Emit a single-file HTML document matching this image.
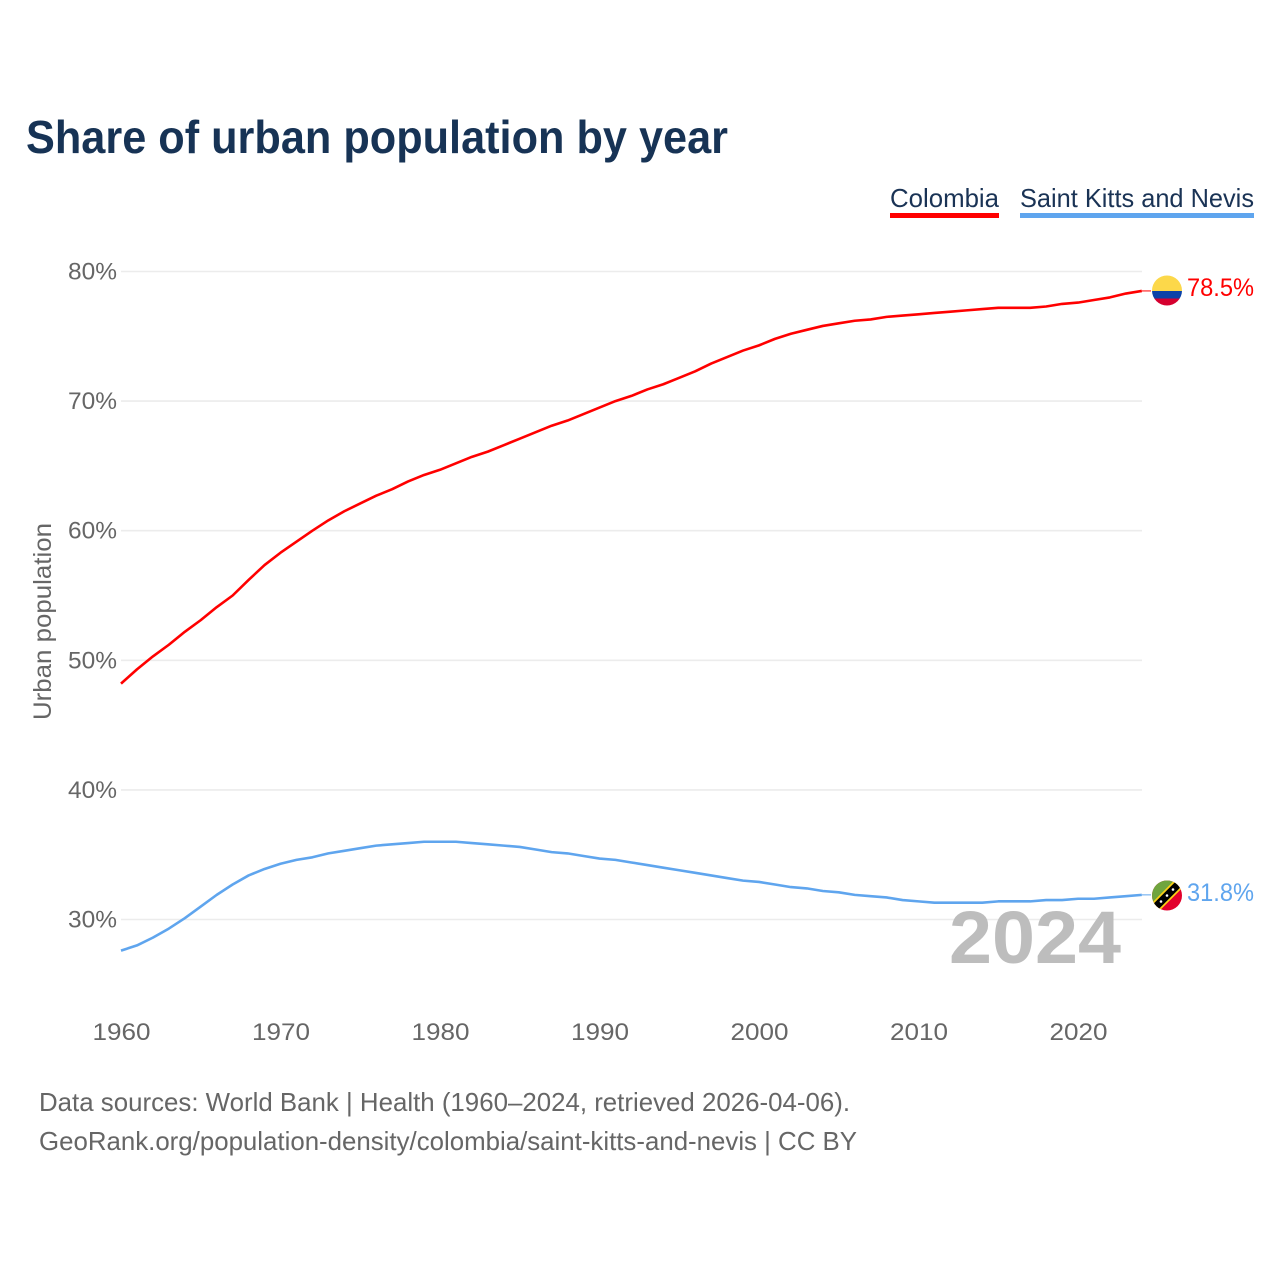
<!DOCTYPE html>
<html lang="en">
<head>
<meta charset="utf-8">
<title>Share of urban population by year</title>
<style>
html,body{margin:0;padding:0;background:#fff;width:1280px;height:1280px;overflow:hidden}
svg{display:block}
text{font-family:"Liberation Sans",sans-serif}
</style>
</head>
<body>
<svg id="chart" xmlns="http://www.w3.org/2000/svg" width="1280" height="1280" viewBox="0 0 1280 1280">
  <rect width="1280" height="1280" fill="#fff"/>
  <text x="26" y="153" font-size="46" font-weight="700" fill="#173355" textLength="702" lengthAdjust="spacingAndGlyphs">Share of urban population by year</text>

  <g>
    <text x="890" y="207" font-size="26" fill="#1a3355" textLength="109" lengthAdjust="spacingAndGlyphs">Colombia</text>
    <rect x="890" y="213" width="109" height="5" fill="#ff0000"/>
  </g>
  <g>
    <text x="1020" y="207" font-size="26" fill="#1a3355" textLength="234" lengthAdjust="spacingAndGlyphs">Saint Kitts and Nevis</text>
    <rect x="1020" y="213" width="234" height="5" fill="#5fa5ee"/>
  </g>

  <g id="grid"></g>
  <g id="yticks"></g>
  <g id="xticks"></g>
  <text transform="translate(51,720) rotate(-90)" x="0" y="0" font-size="25" fill="#666" textLength="197" lengthAdjust="spacingAndGlyphs">Urban population</text>

  <text x="949" y="963" font-size="74" font-weight="700" fill="#bdbdbd" textLength="172" lengthAdjust="spacingAndGlyphs">2024</text>

  <path id="line-colombia" fill="none" stroke="#ff0000" stroke-width="2.6" stroke-linejoin="round"/>
  <path id="line-skn" fill="none" stroke="#5fa5ee" stroke-width="2.6" stroke-linejoin="round"/>
  <line id="lead-colombia" stroke="#ff0000" stroke-width="1"/>
  <line id="lead-skn" stroke="#5fa5ee" stroke-width="1"/>

  <defs>
    <clipPath id="clip-co"><circle cx="1167" cy="290.5" r="15"/></clipPath>
    <clipPath id="clip-kn"><circle cx="1167" cy="895.5" r="15"/></clipPath>
  </defs>
  <g clip-path="url(#clip-co)">
    <rect x="1152" y="275" width="30" height="16" fill="#fcd84a"/>
    <rect x="1152" y="291" width="30" height="7.5" fill="#0b42a8"/>
    <rect x="1152" y="298.5" width="30" height="7.5" fill="#d5002f"/>
  </g>
  <g clip-path="url(#clip-kn)">
    <rect x="1152" y="880" width="31" height="31" fill="#e2002c"/>
    <polygon points="1152,880 1182,880 1152,910.5" fill="#6fa53e"/>
    <line x1="1150" y1="912.5" x2="1184" y2="878.5" stroke="#fcd116" stroke-width="11"/>
    <line x1="1150" y1="912.5" x2="1184" y2="878.5" stroke="#000" stroke-width="7.5"/>
    <circle cx="1161" cy="901.5" r="1.3" fill="#fff"/>
    <circle cx="1167" cy="895.5" r="1.3" fill="#fff"/>
    <circle cx="1173" cy="889.5" r="1.3" fill="#fff"/>
  </g>
  <text x="1187" y="296" font-size="25" fill="#ff0000" textLength="67" lengthAdjust="spacingAndGlyphs">78.5%</text>
  <text x="1187" y="901" font-size="25" fill="#5fa5ee" textLength="67" lengthAdjust="spacingAndGlyphs">31.8%</text>

  <text x="39" y="1111" font-size="26" fill="#666" textLength="811" lengthAdjust="spacingAndGlyphs">Data sources: World Bank | Health (1960–2024, retrieved 2026-04-06).</text>
  <text x="39" y="1150" font-size="26" fill="#666" textLength="818" lengthAdjust="spacingAndGlyphs">GeoRank.org/population-density/colombia/saint-kitts-and-nevis | CC BY</text>
</svg>
<script>
const startYear = 1960;
const colombia = [48.2,49.3,50.3,51.2,52.2,53.1,54.1,55.0,56.2,57.35,58.3,59.15,60.0,60.8,61.5,62.1,62.7,63.2,63.8,64.3,64.7,65.2,65.7,66.1,66.6,67.1,67.6,68.1,68.5,69.0,69.5,70.0,70.4,70.9,71.3,71.8,72.3,72.9,73.4,73.9,74.3,74.8,75.2,75.5,75.8,76.0,76.2,76.3,76.5,76.6,76.7,76.8,76.9,77.0,77.1,77.2,77.2,77.2,77.3,77.5,77.6,77.8,78.0,78.3,78.5];
const saintKittsAndNevis = [27.6,28.0,28.6,29.3,30.1,31.0,31.9,32.7,33.4,33.9,34.3,34.6,34.8,35.1,35.3,35.5,35.7,35.8,35.9,36.0,36.0,36.0,35.9,35.8,35.7,35.6,35.4,35.2,35.1,34.9,34.7,34.6,34.4,34.2,34.0,33.8,33.6,33.4,33.2,33.0,32.9,32.7,32.5,32.4,32.2,32.1,31.9,31.8,31.7,31.5,31.4,31.3,31.3,31.3,31.3,31.4,31.4,31.4,31.5,31.5,31.6,31.6,31.7,31.8,31.9];
const yTicks = [30,40,50,60,70,80];
const xTicks = [1960,1970,1980,1990,2000,2010,2020];

const NS = 'http://www.w3.org/2000/svg';
function xScale(year){ return 121 + (year - 1960) * 15.95; }
function yScale(v){ return 919.5 - (v - 30) * 12.96; }
function linePath(values){
  return values.map(function(v,i){
    return (i ? 'L' : 'M') + xScale(startYear + i).toFixed(2) + ' ' + yScale(v).toFixed(2);
  }).join('');
}
const gridG = document.getElementById('grid');
const yG = document.getElementById('yticks');
const xG = document.getElementById('xticks');
yTicks.forEach(function(t){
  const ln = document.createElementNS(NS,'line');
  
  
  ln.setAttribute('x1', 121);
  ln.setAttribute('x2', 1142);
  ln.setAttribute('y1', yScale(t));
  ln.setAttribute('y2', yScale(t));
  ln.setAttribute('stroke', '#ececec');
  ln.setAttribute('stroke-width', '1.6');
  gridG.appendChild(ln);
  const tx = document.createElementNS(NS,'text');
  
  
  tx.setAttribute('x', 68);
  tx.setAttribute('y', yScale(t) + 8);
  tx.setAttribute('font-size', '24');
  tx.setAttribute('fill', '#666');
  tx.setAttribute('textLength', '49');
  tx.setAttribute('lengthAdjust', 'spacingAndGlyphs');
  tx.textContent = t + '%';
  yG.appendChild(tx);
});
xTicks.forEach(function(t){
  const tx = document.createElementNS(NS,'text');
  
  
  tx.setAttribute('x', xScale(t) - 28.5);
  tx.setAttribute('y', 1040);
  tx.setAttribute('font-size', '24');
  tx.setAttribute('fill', '#666');
  tx.setAttribute('textLength', '58');
  tx.setAttribute('lengthAdjust', 'spacingAndGlyphs');
  tx.textContent = t;
  xG.appendChild(tx);
});
document.getElementById('line-colombia').setAttribute('d', linePath(colombia));
document.getElementById('line-skn').setAttribute('d', linePath(saintKittsAndNevis));
function lead(id, values){
  const el = document.getElementById(id);
  const last = yScale(values[values.length - 1]);
  el.setAttribute('x1', xScale(startYear + values.length - 1));
  el.setAttribute('x2', 1151);
  el.setAttribute('y1', last);
  el.setAttribute('y2', last);
}
lead('lead-colombia', colombia);
lead('lead-skn', saintKittsAndNevis);
</script>
</body>
</html>
